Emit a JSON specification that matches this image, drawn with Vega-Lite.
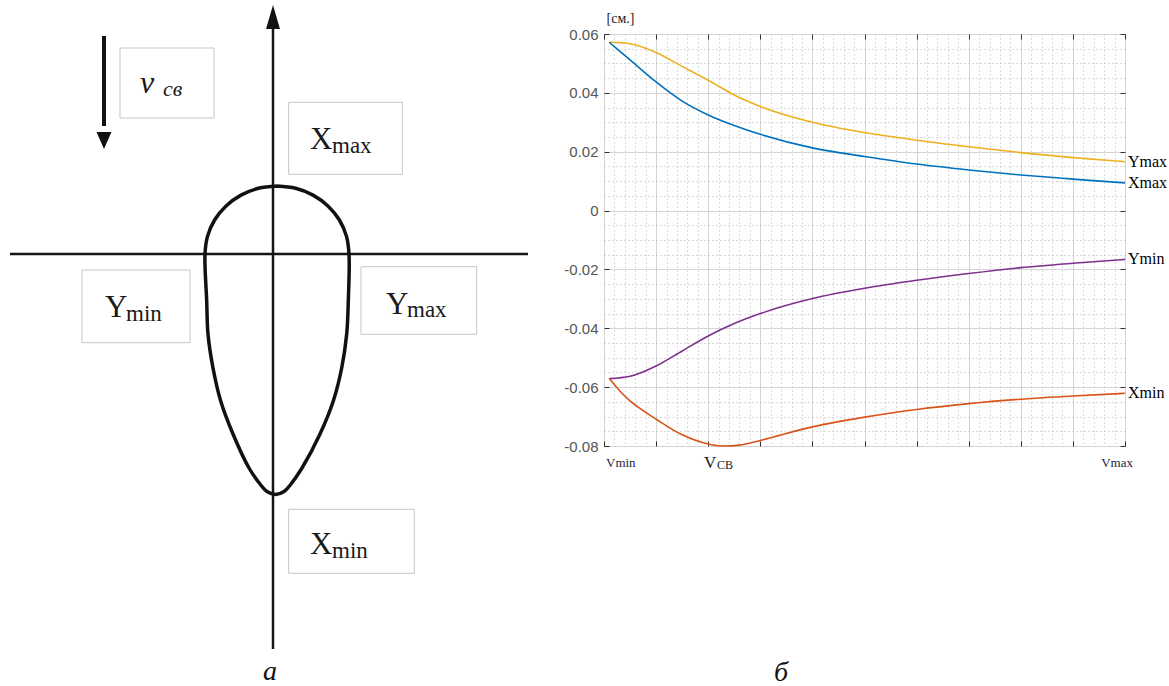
{
  "$schema": "https://vega.github.io/schema/vega-lite/v6.json",
  "background": "white",
  "padding": 0,
  "spacing": 15,
  "config": {"view": {"stroke": null}},
  "datasets": {
    "curves": [
      {"series": "Ymax", "v": 0.1, "d": 0.0572}, {"series": "Ymax", "v": 0.5, "d": 0.0567}, {"series": "Ymax", "v": 1, "d": 0.0537},
      {"series": "Ymax", "v": 1.5, "d": 0.049}, {"series": "Ymax", "v": 2, "d": 0.0443}, {"series": "Ymax", "v": 2.5, "d": 0.0393},
      {"series": "Ymax", "v": 3, "d": 0.0354}, {"series": "Ymax", "v": 4, "d": 0.03}, {"series": "Ymax", "v": 5, "d": 0.0265},
      {"series": "Ymax", "v": 6, "d": 0.0239}, {"series": "Ymax", "v": 7, "d": 0.0217}, {"series": "Ymax", "v": 8, "d": 0.0197},
      {"series": "Ymax", "v": 9, "d": 0.018}, {"series": "Ymax", "v": 10, "d": 0.0166},
      {"series": "Xmax", "v": 0.1, "d": 0.0572}, {"series": "Xmax", "v": 0.5, "d": 0.0512}, {"series": "Xmax", "v": 1, "d": 0.0437},
      {"series": "Xmax", "v": 1.5, "d": 0.0372}, {"series": "Xmax", "v": 2, "d": 0.0325}, {"series": "Xmax", "v": 2.5, "d": 0.0289},
      {"series": "Xmax", "v": 3, "d": 0.0259}, {"series": "Xmax", "v": 4, "d": 0.0213}, {"series": "Xmax", "v": 5, "d": 0.0184},
      {"series": "Xmax", "v": 6, "d": 0.0158}, {"series": "Xmax", "v": 7, "d": 0.0138}, {"series": "Xmax", "v": 8, "d": 0.0121},
      {"series": "Xmax", "v": 9, "d": 0.0107}, {"series": "Xmax", "v": 10, "d": 0.0094},
      {"series": "Ymin", "v": 0.1, "d": -0.0571}, {"series": "Ymin", "v": 0.5, "d": -0.0563}, {"series": "Ymin", "v": 1, "d": -0.0528},
      {"series": "Ymin", "v": 1.5, "d": -0.0477}, {"series": "Ymin", "v": 2, "d": -0.0426}, {"series": "Ymin", "v": 2.5, "d": -0.0384},
      {"series": "Ymin", "v": 3, "d": -0.035}, {"series": "Ymin", "v": 4, "d": -0.0299}, {"series": "Ymin", "v": 5, "d": -0.0264},
      {"series": "Ymin", "v": 6, "d": -0.0237}, {"series": "Ymin", "v": 7, "d": -0.0214}, {"series": "Ymin", "v": 8, "d": -0.0194},
      {"series": "Ymin", "v": 9, "d": -0.0179}, {"series": "Ymin", "v": 10, "d": -0.0166},
      {"series": "Xmin", "v": 0.1, "d": -0.0571}, {"series": "Xmin", "v": 0.3, "d": -0.0612}, {"series": "Xmin", "v": 0.5, "d": -0.0647},
      {"series": "Xmin", "v": 0.75, "d": -0.068}, {"series": "Xmin", "v": 1, "d": -0.0709}, {"series": "Xmin", "v": 1.5, "d": -0.0762},
      {"series": "Xmin", "v": 2, "d": -0.0793}, {"series": "Xmin", "v": 2.3, "d": -0.08}, {"series": "Xmin", "v": 2.6, "d": -0.0797},
      {"series": "Xmin", "v": 3, "d": -0.0781}, {"series": "Xmin", "v": 4, "d": -0.0735}, {"series": "Xmin", "v": 5, "d": -0.0702},
      {"series": "Xmin", "v": 6, "d": -0.0676}, {"series": "Xmin", "v": 7, "d": -0.0656}, {"series": "Xmin", "v": 8, "d": -0.0641},
      {"series": "Xmin", "v": 9, "d": -0.063}, {"series": "Xmin", "v": 10, "d": -0.0621}
    ],
    "drop": [
      {"o": 1, "x": 0.4, "y": 6.8}, {"o": 2, "x": 2.26, "y": 6.57}, {"o": 3, "x": 4.0, "y": 5.89}, {"o": 4, "x": 5.49, "y": 4.81},
      {"o": 5, "x": 6.64, "y": 3.4}, {"o": 6, "x": 7.35, "y": 1.76}, {"o": 7, "x": 7.6, "y": 0}, {"o": 8, "x": 7.53, "y": -4.7},
      {"o": 9, "x": 7.37, "y": -8.0}, {"o": 10, "x": 6.87, "y": -11.4}, {"o": 11, "x": 6.03, "y": -14.7}, {"o": 12, "x": 4.7, "y": -18.0},
      {"o": 13, "x": 2.9, "y": -21.4}, {"o": 14, "x": 1.8, "y": -23.0}, {"o": 15, "x": 1.1, "y": -23.75}, {"o": 16, "x": 0.25, "y": -24.05},
      {"o": 17, "x": -0.6, "y": -23.75}, {"o": 18, "x": -1.3, "y": -23.0}, {"o": 19, "x": -2.4, "y": -21.4}, {"o": 20, "x": -4.0, "y": -18.0},
      {"o": 21, "x": -5.23, "y": -14.7}, {"o": 22, "x": -6.0, "y": -11.4}, {"o": 23, "x": -6.5, "y": -8.0}, {"o": 24, "x": -6.63, "y": -4.7},
      {"o": 25, "x": -6.8, "y": 0}, {"o": 26, "x": -6.55, "y": 1.76}, {"o": 27, "x": -5.84, "y": 3.4}, {"o": 28, "x": -4.69, "y": 4.81},
      {"o": 29, "x": -3.2, "y": 5.89}, {"o": 30, "x": -1.46, "y": 6.57}, {"o": 31, "x": 0.4, "y": 6.8}
    ],
    "axisLines": [
      {"x": -26.3, "y": 0, "x2": 25.5, "y2": 0},
      {"x": 0, "y": 23.0, "x2": 0, "y2": -39.5}
    ],
    "boxes": [
      {"x": -15.3, "x2": -5.9, "y": 20.6, "y2": 13.6},
      {"x": 1.57, "x2": 12.93, "y": 15.17, "y2": 7.97},
      {"x": -19.1, "x2": -8.3, "y": -1.6, "y2": -8.87},
      {"x": 8.8, "x2": 20.37, "y": -1.27, "y2": -8.03},
      {"x": 1.57, "x2": 14.13, "y": -25.53, "y2": -31.93}
    ],
    "glyphs": [
      {"t": "v", "x": -13.3, "y": 16.1, "role": "v"},
      {"t": "св", "x": -11.0, "y": 15.8, "role": "vsub"},
      {"t": "X", "x": 3.7, "y": 10.5, "role": "main"},
      {"t": "max", "x": 5.9, "y": 10.1, "role": "sub"},
      {"t": "Y", "x": -16.8, "y": -6.3, "role": "main"},
      {"t": "min", "x": -14.7, "y": -6.7, "role": "sub"},
      {"t": "Y", "x": 11.3, "y": -6.0, "role": "main"},
      {"t": "max", "x": 13.4, "y": -6.3, "role": "sub"},
      {"t": "X", "x": 3.7, "y": -30.0, "role": "main"},
      {"t": "min", "x": 5.9, "y": -30.4, "role": "sub"},
      {"t": "а", "x": -0.3, "y": -42.6, "role": "caption"}
    ]
  },
  "hconcat": [
    {
      "width": 545,
      "height": 653,
      "view": {"stroke": null},
      "encoding": {
        "x": {"field": "x", "type": "quantitative", "scale": {"domain": [-27.3, 27.2], "nice": false, "zero": false}, "axis": null},
        "y": {"field": "y", "type": "quantitative", "scale": {"domain": [-43.3, 22.0], "nice": false, "zero": false}, "axis": null}
      },
      "layer": [
        {
          "data": {"name": "axisLines"},
          "mark": {"type": "rule", "color": "#161616", "strokeWidth": 2.5},
          "encoding": {"x2": {"field": "x2"}, "y2": {"field": "y2"}}
        },
        {
          "data": {"values": [{"x": -16.9, "y": 21.8, "x2": -16.9, "y2": 12.8}]},
          "mark": {"type": "rule", "color": "#111111", "strokeWidth": 4},
          "encoding": {"x2": {"field": "x2"}, "y2": {"field": "y2"}}
        },
        {
          "data": {"values": [{"x": 0, "y": 23.7}]},
          "mark": {"type": "point", "filled": true, "opacity": 1, "color": "#111111", "size": 576, "shape": "M0,-1L-0.58,1L0.58,1Z"}
        },
        {
          "data": {"values": [{"x": -16.9, "y": 11.35}]},
          "mark": {"type": "point", "filled": true, "opacity": 1, "color": "#111111", "size": 289, "shape": "M0,1L-0.88,-1L0.88,-1Z"}
        },
        {
          "data": {"name": "drop"},
          "mark": {"type": "line", "interpolate": "catmull-rom", "color": "#111111", "strokeWidth": 3.5},
          "encoding": {"order": {"field": "o", "type": "quantitative"}}
        },
        {
          "data": {"name": "boxes"},
          "mark": {"type": "rect", "fill": "white", "stroke": "#c6c6c6", "strokeWidth": 1},
          "encoding": {"x2": {"field": "x2"}, "y2": {"field": "y2"}}
        },
        {
          "data": {"name": "glyphs"},
          "transform": [{"filter": "datum.role == 'main'"}],
          "mark": {"type": "text", "align": "left", "baseline": "alphabetic", "font": "Liberation Serif", "fontSize": 31, "color": "#1a1a1a"},
          "encoding": {"text": {"field": "t"}}
        },
        {
          "data": {"name": "glyphs"},
          "transform": [{"filter": "datum.role == 'sub'"}],
          "mark": {"type": "text", "align": "left", "baseline": "alphabetic", "font": "Liberation Serif", "fontSize": 23, "color": "#1a1a1a"},
          "encoding": {"text": {"field": "t"}}
        },
        {
          "data": {"name": "glyphs"},
          "transform": [{"filter": "datum.role == 'v'"}],
          "mark": {"type": "text", "align": "left", "baseline": "alphabetic", "font": "Liberation Serif", "fontStyle": "italic", "fontSize": 32, "color": "#1a1a1a"},
          "encoding": {"text": {"field": "t"}}
        },
        {
          "data": {"name": "glyphs"},
          "transform": [{"filter": "datum.role == 'vsub'"}],
          "mark": {"type": "text", "align": "left", "baseline": "alphabetic", "font": "Liberation Serif", "fontStyle": "italic", "fontSize": 22, "color": "#1a1a1a"},
          "encoding": {"text": {"field": "t"}}
        },
        {
          "data": {"name": "glyphs"},
          "transform": [{"filter": "datum.role == 'caption'"}],
          "mark": {"type": "text", "align": "center", "baseline": "alphabetic", "font": "Liberation Serif", "fontStyle": "italic", "fontSize": 28, "color": "#111111"},
          "encoding": {"text": {"field": "t"}}
        }
      ]
    },
    {
      "width": 521,
      "height": 412,
      "view": {"stroke": "#2e2e2e", "strokeWidth": 1},
      "resolve": {"axis": {"x": "independent", "y": "independent"}},
      "layer": [
        {
          "data": {"values": [{}]},
          "mark": {"type": "text", "text": "б", "align": "center", "baseline": "alphabetic", "dy": 235, "font": "Liberation Serif", "fontStyle": "italic", "fontSize": 28, "color": "#111111"},
          "encoding": {
            "x": {"datum": 3.4, "type": "quantitative", "scale": {"domain": [0, 10], "nice": false, "zero": false},
              "axis": {"orient": "bottom", "values": [0.2,0.4,0.6,0.8,1.2,1.4,1.6,1.8,2.2,2.4,2.6,2.8,3.2,3.4,3.6,3.8,4.2,4.4,4.6,4.8,5.2,5.4,5.6,5.8,6.2,6.4,6.6,6.8,7.2,7.4,7.6,7.8,8.2,8.4,8.6,8.8,9.2,9.4,9.6,9.8],
                "grid": true, "gridColor": "#b4b4b4", "gridDash": [1, 3], "gridWidth": 1, "ticks": false, "labels": false, "domain": false, "title": null}},
            "y": {"datum": -0.08, "type": "quantitative", "scale": {"domain": [-0.08, 0.06], "nice": false, "zero": false},
              "axis": {"orient": "left", "values": [-0.075,-0.07,-0.065,-0.055,-0.05,-0.045,-0.035,-0.03,-0.025,-0.015,-0.01,-0.005,0.005,0.01,0.015,0.025,0.03,0.035,0.045,0.05,0.055],
                "grid": true, "gridColor": "#b4b4b4", "gridDash": [1, 3], "gridWidth": 1, "ticks": false, "labels": false, "domain": false, "title": null}}
          }
        },
        {
          "data": {"name": "curves"},
          "mark": {"type": "line", "interpolate": "monotone", "strokeWidth": 1.6},
          "encoding": {
            "x": {"field": "v", "type": "quantitative", "scale": {"domain": [0, 10], "nice": false, "zero": false},
              "axis": {"orient": "bottom", "values": [0,1,2,3,4,5,6,7,8,9,10], "grid": true, "gridColor": "#d4d4d4", "gridWidth": 1,
                "ticks": true, "tickSize": -5, "tickColor": "#2e2e2e", "labels": false, "domain": false, "title": null}},
            "y": {"field": "d", "type": "quantitative", "scale": {"domain": [-0.08, 0.06], "nice": false, "zero": false},
              "axis": {"orient": "left", "values": [-0.08,-0.06,-0.04,-0.02,0,0.02,0.04,0.06], "grid": true, "gridColor": "#d4d4d4", "gridWidth": 1,
                "ticks": true, "tickSize": -5, "tickColor": "#2e2e2e", "domain": false,
                "format": ".2~f", "labelExpr": "replace(datum.label, '−', '-')",
                "labelFont": "Liberation Sans", "labelFontSize": 15, "labelColor": "#555555", "labelPadding": 11,
                "minExtent": 43, "maxExtent": 43,
                "title": "[см.]", "titleAngle": 0, "titleX": 2, "titleY": -23, "titleAlign": "left", "titleBaseline": "top",
                "titleFont": "Liberation Serif", "titleFontSize": 14, "titleFontWeight": "normal", "titleColor": "#222222"}},
            "color": {"field": "series", "type": "nominal",
              "scale": {"domain": ["Xmax", "Xmin", "Ymax", "Ymin"], "range": ["#0072BD", "#D95319", "#EDB120", "#7E2F8E"]},
              "legend": null}
          }
        },
        {
          "data": {"name": "curves"},
          "transform": [{"filter": "datum.v == 10"}],
          "mark": {"type": "text", "align": "left", "baseline": "middle", "dx": 3, "font": "Liberation Serif", "fontSize": 16, "color": "#000000"},
          "encoding": {
            "x": {"field": "v", "type": "quantitative", "scale": {"domain": [0, 10], "nice": false, "zero": false}, "axis": null},
            "y": {"field": "d", "type": "quantitative", "scale": {"domain": [-0.08, 0.06], "nice": false, "zero": false}, "axis": null},
            "text": {"field": "series"}
          }
        },
        {
          "data": {"values": [{}]},
          "mark": {"type": "text", "text": "Vmin", "align": "left", "baseline": "alphabetic", "dx": 2, "dy": 21, "font": "Liberation Serif", "fontSize": 13, "color": "#1d1d3a"},
          "encoding": {
            "x": {"datum": 0, "type": "quantitative", "scale": {"domain": [0, 10], "nice": false, "zero": false},
              "axis": {"orient": "top", "values": [0,1,2,3,4,5,6,7,8,9,10], "grid": false, "ticks": true, "tickSize": -5, "tickColor": "#2e2e2e",
                "labels": false, "domain": false, "title": null, "minExtent": 33, "maxExtent": 33}},
            "y": {"datum": -0.08, "type": "quantitative", "scale": {"domain": [-0.08, 0.06], "nice": false, "zero": false},
              "axis": {"orient": "right", "values": [-0.08,-0.06,-0.04,-0.02,0,0.02,0.04,0.06], "grid": false, "ticks": true, "tickSize": -5, "tickColor": "#2e2e2e",
                "labels": false, "domain": false, "title": null, "minExtent": 0, "maxExtent": 0}}
          }
        },
        {
          "data": {"values": [{}]},
          "mark": {"type": "text", "text": "Vmax", "align": "right", "baseline": "alphabetic", "dx": 8, "dy": 21, "font": "Liberation Serif", "fontSize": 13, "color": "#1d1d3a"},
          "encoding": {
            "x": {"datum": 10, "type": "quantitative", "scale": {"domain": [0, 10], "nice": false, "zero": false}, "axis": null},
            "y": {"datum": -0.08, "type": "quantitative", "scale": {"domain": [-0.08, 0.06], "nice": false, "zero": false}, "axis": null}
          }
        },
        {
          "data": {"values": [{}]},
          "mark": {"type": "text", "text": "V", "align": "left", "baseline": "alphabetic", "dy": 22, "font": "Liberation Serif", "fontSize": 17, "color": "#1a1a1a"},
          "encoding": {
            "x": {"datum": 1.92, "type": "quantitative", "scale": {"domain": [0, 10], "nice": false, "zero": false}, "axis": null},
            "y": {"datum": -0.08, "type": "quantitative", "scale": {"domain": [-0.08, 0.06], "nice": false, "zero": false}, "axis": null}
          }
        },
        {
          "data": {"values": [{}]},
          "mark": {"type": "text", "text": "СВ", "align": "left", "baseline": "alphabetic", "dy": 23, "font": "Liberation Serif", "fontSize": 12, "color": "#1a1a1a"},
          "encoding": {
            "x": {"datum": 2.17, "type": "quantitative", "scale": {"domain": [0, 10], "nice": false, "zero": false}, "axis": null},
            "y": {"datum": -0.08, "type": "quantitative", "scale": {"domain": [-0.08, 0.06], "nice": false, "zero": false}, "axis": null}
          }
        }
      ]
    }
  ]
}
